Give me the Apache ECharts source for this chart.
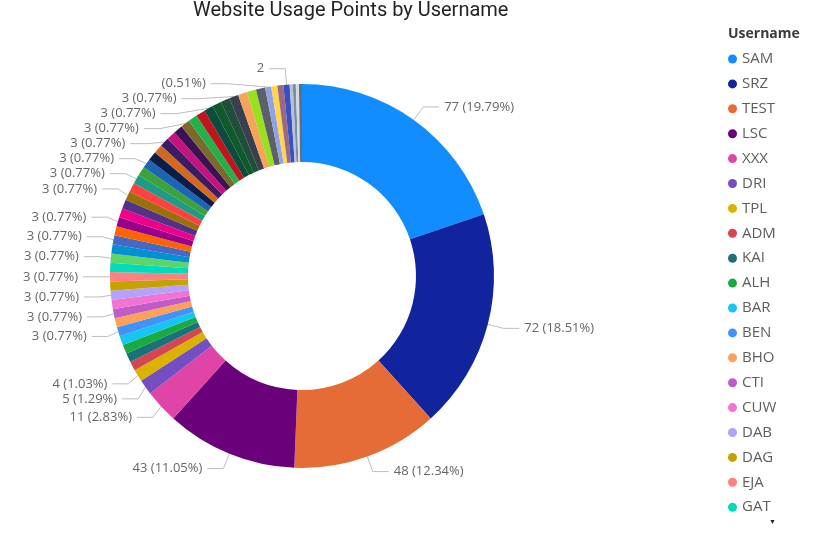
<!DOCTYPE html>
<html>
<head>
<meta charset="utf-8">
<script src="https://cdn.jsdelivr.net/npm/echarts@6/dist/echarts.min.js"></script>
<style>
  html, body { margin: 0; padding: 0; background: #fff; }
  #chart { width: 817px; height: 533px; }
</style>
</head>
<body>
<div id="chart"></div>
<script>
// usernames in the order Power BI draws them (sorted by points)
const usernames = [
  'SAM', 'SRZ', 'TEST', 'LSC', 'XXX', 'DRI', 'TPL',
  'ADM', 'KAI', 'ALH', 'BAR', 'BEN', 'BHO', 'CTI', 'CUW', 'DAB', 'DAG', 'EJA', 'GAT',
  'GHO', 'HAL', 'HRS', 'JBE', 'JMC', 'KBR', 'KLO', 'LAN', 'MAR', 'MCK',
  'MIL', 'NAV', 'NOR', 'OPS', 'PAT', 'PRK', 'RAM', 'RDS', 'ROB', 'SHA',
  'SMI', 'STE', 'TAY', 'TOM', 'VAN', 'WAL', 'WIL',
  'YOU', 'ZAK', 'ABR', 'BRO',
  'CHE', 'DEV', 'FIN', 'HUB'
];
const points = [
  77, 72, 48, 43, 11, 5, 4,
  3, 3, 3, 3, 3, 3, 3, 3, 3, 3, 3, 3,
  3, 3, 3, 3, 3, 3, 3, 3, 3, 3,
  3, 3, 3, 3, 3, 3, 3, 3, 3, 3,
  3, 3, 3, 3, 3, 3, 3,
  2, 2, 2, 2,
  1, 1, 1, 1
];
const sliceColors = [
  '#118DFF', '#12239E', '#E66C37', '#6B007B', '#E044A7', '#744EC2', '#D9B300',
  '#D64550', '#197278', '#1AAB40', '#15C6F4', '#4092FF', '#FFA058', '#BE5DC9', '#F472D0', '#B5A1FF', '#C4A200', '#FF8080', '#00DBBC',
  '#5BD667', '#0091D5', '#4668C5', '#FF6300', '#99008A', '#EC008C', '#533285', '#99700A', '#FF4141', '#1F9A85',
  '#3BA33A', '#1C64B4', '#0B1E4B', '#D2691E', '#3D1A66', '#C4137B', '#3C1256', '#7B6A2C', '#22B24C', '#C1151E',
  '#0D4B3F', '#0E5A2B', '#1F4E3A', '#3A3F4E', '#F7A35C', '#98E11E', '#5B6069',
  '#8FA2E6', '#FFD44E', '#9A6A82', '#3A4FC2',
  '#B8C2D6', '#7C8DA6', '#D5D8DE', '#5E6E7E'
];
// only the first names fit in the legend box, the rest sit behind the scroll arrow
const legendShown = usernames.slice(0, 19);

const chart = echarts.init(document.getElementById('chart'));
const total = points.reduce((a, b) => a + b, 0);
const pct = v => (v / total * 100).toFixed(2) + '%';

// which small slices keep a label (Power BI drops the ones that collide)
const labelledSmall = [11, 13, 15, 17, 19, 21, 23, 26, 28, 30, 33, 36, 39, 42];

const data = usernames.map((name, i) => {
  const v = points[i];
  let show = v > 3 || labelledSmall.indexOf(i) >= 0;
  let text = v + ' (' + pct(v) + ')';
  if (i === 46) { show = true; text = '(' + pct(v) + ')'; }
  if (i === 49) { show = true; text = String(v); }
  return {
    name: name,
    value: v,
    itemStyle: { color: sliceColors[i] },
    label: { show: show, formatter: text },
    labelLine: { show: show }
  };
});

chart.setOption({
  animation: false,
  textStyle: { fontFamily: 'Open Sans' },
  graphic: [
    {
      type: 'text', left: 193, top: 1,
      style: { text: 'Website Usage Points by Username', fontSize: 20, fontFamily: 'Roboto', fill: '#252423' }
    },
    {
      type: 'text', left: 728, top: 27,
      style: { text: 'Username', fontSize: 14, fontWeight: 'bold', fontFamily: 'Open Sans', fill: '#3b3a39' }
    },
    {
      type: 'text', left: 769, top: 519,
      style: { text: '\u25BC', fontSize: 7, fill: '#252423' }
    }
  ],
  legend: {
    orient: 'vertical',
    left: 723,
    top: 46,
    icon: 'circle',
    itemWidth: 9,
    itemHeight: 9,
    itemGap: 8.9,
    selectedMode: false,
    data: legendShown,
    textStyle: { fontSize: 15, color: '#605E5C', lineHeight: 16, fontFamily: 'Open Sans' }
  },
  series: [{
    type: 'pie',
    center: [302, 276],
    radius: [114, 192],
    startAngle: 90,
    clockwise: true,
    avoidLabelOverlap: true,
    label: {
      position: 'outside',
      color: '#666666',
      fontSize: 13,
      fontFamily: 'Open Sans'
    },
    labelLine: {
      length: 16,
      length2: 16,
      lineStyle: { color: '#BDBDBD', width: 1 }
    },
    emphasis: { disabled: true },
    data: data
  }]
});
</script>
</body>
</html>
